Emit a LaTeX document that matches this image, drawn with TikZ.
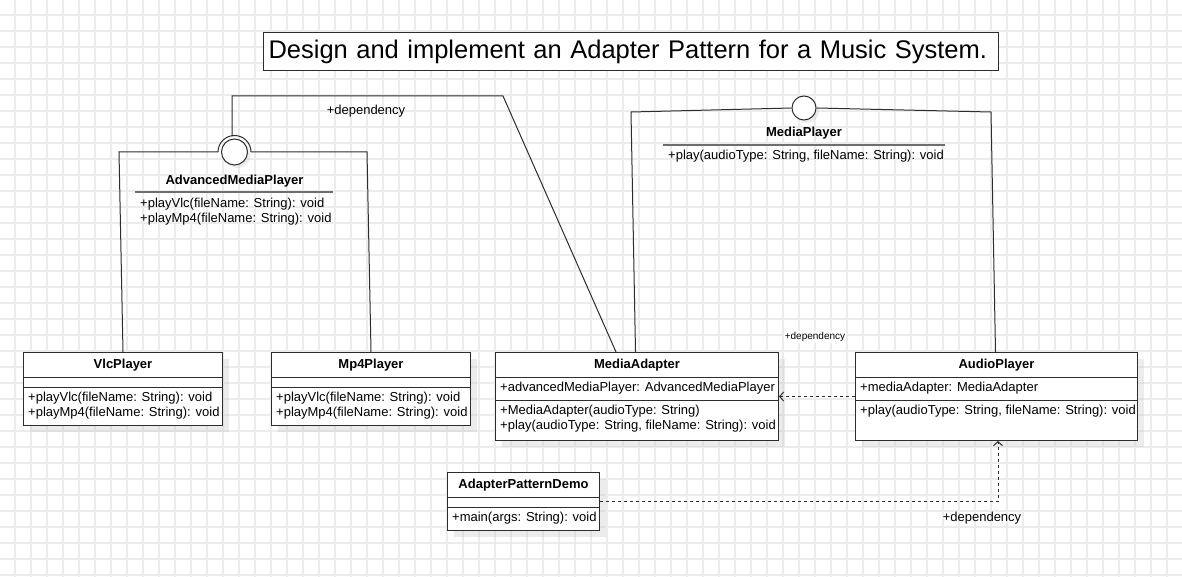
\documentclass[tikz,border=0pt]{standalone}
\usepackage{fontspec}
\setmainfont{Liberation Sans}
\usepackage{xcolor}
\usepackage{tikz}
\usetikzlibrary{arrows.meta, positioning, shadows, calc}
\definecolor{gridgray}{RGB}{236, 236, 236}
\definecolor{umlborder}{RGB}{45, 45, 45}
\definecolor{sepgray}{RGB}{110, 110, 110}
\definecolor{shadegray}{RGB}{200, 200, 200}

\tikzset{
  gridline/.style={gridgray, line width=1.3pt},
  classbox/.style={draw=umlborder, fill=white, line width=1pt, anchor=north west, inner sep=0pt,
    drop shadow={shadow xshift=6pt, shadow yshift=-6pt, fill=shadegray, opacity=0.35}},
  classline/.style={draw=umlborder, line width=1pt},
  sepline/.style={draw=sepgray, line width=1.6pt},
  classname/.style={font=\bfseries\fontsize{13}{15}\selectfont, inner sep=0pt},
  member/.style={anchor=west, align=left, inner sep=0pt, font=\fontsize{13}{15}\selectfont},
  lollipop/.style={circle, draw=umlborder, fill=white, line width=1pt, minimum size=24pt, inner sep=0pt,
    drop shadow={shadow xshift=3pt, shadow yshift=-3pt, fill=shadegray, opacity=0.35}},
  realize/.style={draw=umlborder, line width=1pt},
  dep/.style={draw=umlborder, line width=1pt, dash pattern=on 3pt off 3pt,
    -{Straight Barb[length=4pt, width=9pt]}},
  deplabel/.style={font=\fontsize{13}{15}\selectfont, inner sep=1pt},
  titlebox/.style={draw=umlborder, fill=white, line width=1pt, anchor=north west, minimum height=38pt,
    text width=725pt, inner xsep=5pt, font=\fontsize{25.5}{30}\selectfont},
}

\begin{document}
\begin{tikzpicture}[x=1pt, y=-1pt]
  \useasboundingbox (0,0) rectangle (1182,577);
  % grid paper
  \foreach \gx in {15,31,...,1175} \draw[gridline] (\gx,0) -- (\gx,577);
  \foreach \gy in {15,31,...,575} \draw[gridline] (0,\gy) -- (1182,\gy);

  \node[titlebox] (title) at (263,32) {Design and implement an Adapter Pattern for a Music System.};

  % classes
  \node[classbox, minimum width=199pt, minimum height=73pt] (vlc) at (23,352) {};
  \draw[classline] ($(vlc.north west)+(0,25)$) -- ($(vlc.north east)+(0,25)$);
  \draw[classline] ($(vlc.north west)+(0,35)$) -- ($(vlc.north east)+(0,35)$);
  \node[classname] (vlc-name) at ($(vlc.north)+(0,13.5)$) {VlcPlayer};
  \node[member] (vlc-ops) at ($(vlc.north west)+(5,53.5)$) {+playVlc(fileName: String): void\\+playMp4(fileName: String): void};

  \node[classbox, minimum width=199pt, minimum height=73pt] (mp4) at (271,352) {};
  \draw[classline] ($(mp4.north west)+(0,25)$) -- ($(mp4.north east)+(0,25)$);
  \draw[classline] ($(mp4.north west)+(0,35)$) -- ($(mp4.north east)+(0,35)$);
  \node[classname] (mp4-name) at ($(mp4.north)+(0,13.5)$) {Mp4Player};
  \node[member] (mp4-ops) at ($(mp4.north west)+(5,53.5)$) {+playVlc(fileName: String): void\\+playMp4(fileName: String): void};

  \node[classbox, minimum width=283pt, minimum height=88pt] (adapter) at (495,352) {};
  \draw[classline] ($(adapter.north west)+(0,25)$) -- ($(adapter.north east)+(0,25)$);
  \draw[classline] ($(adapter.north west)+(0,48)$) -- ($(adapter.north east)+(0,48)$);
  \node[classname] (adapter-name) at ($(adapter.north)+(0,13.5)$) {MediaAdapter};
  \node[member] (adapter-attr) at ($(adapter.north west)+(5,36.5)$) {+advancedMediaPlayer: AdvancedMediaPlayer};
  \node[member] (adapter-ops) at ($(adapter.north west)+(5,66.5)$) {+MediaAdapter(audioType: String)\\+play(audioType: String, fileName: String): void};

  \node[classbox, minimum width=282pt, minimum height=88pt] (audio) at (855,352) {};
  \draw[classline] ($(audio.north west)+(0,25)$) -- ($(audio.north east)+(0,25)$);
  \draw[classline] ($(audio.north west)+(0,48)$) -- ($(audio.north east)+(0,48)$);
  \node[classname] (audio-name) at ($(audio.north)+(0,13.5)$) {AudioPlayer};
  \node[member] (audio-attr) at ($(audio.north west)+(5,36.5)$) {+mediaAdapter: MediaAdapter};
  \node[member] (audio-ops) at ($(audio.north west)+(5,59)$) {+play(audioType: String, fileName: String): void};

  \node[classbox, minimum width=152pt, minimum height=58pt] (demo) at (447,472) {};
  \draw[classline] ($(demo.north west)+(0,25)$) -- ($(demo.north east)+(0,25)$);
  \draw[classline] ($(demo.north west)+(0,35)$) -- ($(demo.north east)+(0,35)$);
  \node[classname] (demo-name) at ($(demo.north)+(0,13.5)$) {AdapterPatternDemo};
  \node[member] (demo-ops) at ($(demo.north west)+(5,46.5)$) {+main(args: String): void};

  % interface AdvancedMediaPlayer
  \node[lollipop, minimum size=26pt] (amp) at (234.5,152) {};
  \draw[realize] ($(amp.center)+(-16.5,0)$) arc[start angle=180, end angle=0, radius=16.5pt];
  \coordinate (amp-left) at ($(amp.center)+(-16.5,0)$);
  \coordinate (amp-right) at ($(amp.center)+(16.5,0)$);
  \coordinate (amp-top) at ($(amp.center)+(-2.5,-15.5)$);
  \node[classname] (amp-name) at (234.5,181) {AdvancedMediaPlayer};
  \draw[sepline] (135,192) -- (333,192);
  \node[member] (amp-ops) at (140,211.5) {+playVlc(fileName: String): void\\+playMp4(fileName: String): void};
  \draw[realize] (amp-left) -- (119,152) -- (vlc.north);
  \draw[realize] (amp-right) -- (367,152) -- (mp4.north);

  % interface MediaPlayer
  \node[lollipop] (mp) at (804,108) {};
  \node[classname] (mp-name) at (804,133) {MediaPlayer};
  \draw[sepline] (663,145) -- (945,145);
  \node[member] (mp-ops) at (668,156) {+play(audioType: String, fileName: String): void};
  \draw[realize] (mp.west) -- (631,112) -- ($(adapter.north)+(-1.5,0)$);
  \draw[realize] (mp.east) -- (991,112) -- ($(audio.north)+(-1,0)$);

  % dependencies
  \coordinate (dep-bend) at (503,96);
  \draw[realize] (amp-top) |- (dep-bend) -- ($(adapter.north west)+(121,0)$);
  \node[deplabel] (dep1) at (366,111) {+dependency};

  \draw[dep] (audio.west) -- (adapter.east);
  \node[deplabel, font=\fontsize{10}{12}\selectfont, fill=white] (dep2) at (815,337) {+dependency};

  \draw[dep] (demo.east) -| ($(audio.south)+(1.5,0)$);
  \node[deplabel] (dep3) at (982,518) {+dependency};
\end{tikzpicture}
\end{document}
